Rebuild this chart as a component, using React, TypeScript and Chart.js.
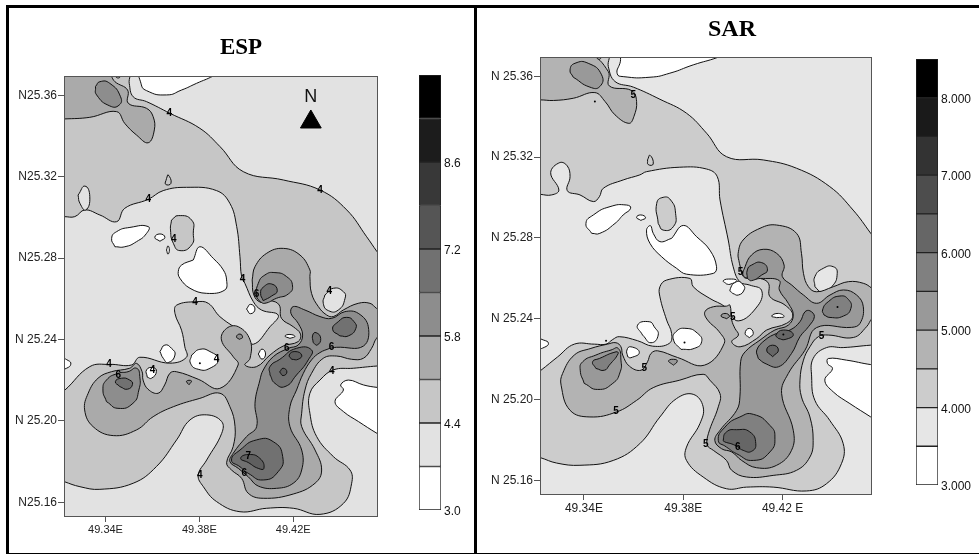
import React, { useEffect, useRef } from "react";
import { Chart, registerables } from "chart.js";

Chart.register(...registerables);

// ---------- ESP map: contour rings as lon,lat pairs ----------
const espBase = [49.30,25.39, 49.48,25.39, 49.48,25.14, 49.30,25.14];
const espC1 = [49.31,25.38, 49.3497,25.3716, 49.3501,25.3659, 49.3518,25.3593, 49.3575,25.3569, 49.3674,25.3512, 49.3802,25.3438, 49.3888,25.3348, 49.3987,25.3225, 49.4158,25.3184, 49.4314,25.3135, 49.4428,25.3037, 49.4513,25.2905, 49.4557,25.2832, 49.4584,25.2791, 49.47,25.27, 49.47,25.23, 49.4584,25.2270, 49.4557,25.2270, 49.4456,25.2259, 49.4371,25.2251, 49.4314,25.2201, 49.4271,25.2136, 49.4271,25.2038, 49.4300,25.1923, 49.4371,25.1825, 49.4442,25.1759, 49.4449,25.1694, 49.4414,25.1595, 49.4314,25.1541, 49.4200,25.1571, 49.4087,25.1571, 49.3973,25.1554, 49.3873,25.1604, 49.3817,25.1677, 49.3795,25.1734, 49.3831,25.1808, 49.3895,25.1939, 49.3895,25.1997, 49.3831,25.2030, 49.3760,25.2005, 49.3703,25.1907, 49.3617,25.1776, 49.3518,25.1694, 49.3376,25.1664, 49.3291,25.1677, 49.3224,25.1702, 49.3191,25.1718, 49.31,25.172, 49.31,25.215, 49.3191,25.2128, 49.3224,25.2149, 49.3333,25.2267, 49.3418,25.2278, 49.3511,25.2275, 49.3546,25.2313, 49.3674,25.2284, 49.3745,25.2313, 49.3738,25.2364, 49.3724,25.2446, 49.3696,25.2528, 49.3703,25.2569, 49.3788,25.2586, 49.3838,25.2578, 49.3888,25.2512, 49.3987,25.2430, 49.4030,25.2377, 49.4101,25.2463, 49.4136,25.2520, 49.4065,25.2545, 49.4030,25.2586, 49.3994,25.2676, 49.3980,25.2709, 49.3973,25.2807, 49.3959,25.2955, 49.3930,25.3069, 49.3873,25.3132, 49.3745,25.3148, 49.3646,25.3132, 49.3582,25.3089, 49.3482,25.3045, 49.3447,25.2979, 49.3376,25.3012, 49.3312,25.3037, 49.3269,25.3004, 49.3224,25.3004, 49.31,25.3004];
const espC1Hole = [49.3312,25.3154, 49.3333,25.3102, 49.3316,25.3037, 49.3291,25.3069, 49.3283,25.3110];
const espC1Hole2 = [49.4371,25.2652, 49.4414,25.2635, 49.4421,25.2603, 49.4392,25.2545, 49.4350,25.2542, 49.4328,25.2578, 49.4335,25.2619];
const espIslandA = [49.3710,25.3009, 49.3767,25.2987, 49.3774,25.2922, 49.3767,25.2865, 49.3717,25.2837, 49.3689,25.2873, 49.3677,25.2938, 49.3681,25.2987];
const espIslandB = [49.3667,25.3209, 49.3679,25.3168, 49.3656,25.3163, 49.3660,25.3192];
const espWhite1 = [49.3554,25.3716, 49.3551,25.3659, 49.3575,25.3623, 49.3660,25.3602, 49.3724,25.3626, 49.3788,25.3659, 49.3859,25.3695, 49.3888,25.3716];
const espWhite2 = [49.3426,25.2897, 49.3447,25.2930, 49.3504,25.2951, 49.3582,25.2955, 49.3575,25.2922, 49.3532,25.2881, 49.3482,25.2856, 49.3440,25.2856];
const espWhite3 = [49.3610,25.2902, 49.3632,25.2919, 49.3653,25.2902, 49.3632,25.2883];
const espWhite4 = [49.3666,25.2860, 49.3672,25.2840, 49.3666,25.2820, 49.3660,25.2840];
const espWhite5 = [49.3802,25.2856, 49.3859,25.2799, 49.3902,25.2742, 49.3916,25.2693, 49.3909,25.2644, 49.3831,25.2627, 49.3760,25.2652, 49.3717,25.2701, 49.3710,25.2734, 49.3724,25.2766, 49.3774,25.2791];
const espWhite6 = [49.4018,25.2573, 49.4037,25.2550, 49.4018,25.2527, 49.4001,25.2550];
const espWhite7 = [49.3653,25.2373, 49.3681,25.2357, 49.3696,25.2324, 49.3667,25.2287, 49.3646,25.2308, 49.3632,25.2341];
const espWhite8 = [49.3802,25.2352, 49.3845,25.2341, 49.3880,25.2303, 49.3845,25.2259, 49.3795,25.2254, 49.3762,25.2284, 49.3767,25.2324];
const espWhite9 = [49.3205,25.2308, 49.3241,25.2297, 49.3252,25.2279, 49.3234,25.2259, 49.3205,25.2251];
const espWhite10 = [49.3575,25.2251, 49.3603,25.2262, 49.3617,25.2243, 49.3596,25.2210, 49.3578,25.2215];
const espWhite11 = [49.4067,25.2353, 49.4082,25.2329, 49.4067,25.2304, 49.4051,25.2329];
const espWhite12 = [49.4165,25.2417, 49.4186,25.2425, 49.4207,25.2415, 49.4186,25.2406];
const espWhite13 = [49.4584,25.2165, 49.4557,25.2165, 49.4499,25.2177, 49.4435,25.2201, 49.4402,25.2177, 49.4414,25.2152, 49.4378,25.2095, 49.4414,25.2046, 49.4478,25.1997, 49.4557,25.1939, 49.4584,25.1923, 49.47,25.19, 49.47,25.215];
const espC2TopLeft = [49.31,25.38, 49.3407,25.3716, 49.3440,25.3667, 49.3494,25.3626, 49.3497,25.3561, 49.3575,25.3536, 49.3603,25.3495, 49.3608,25.3430, 49.3582,25.3367, 49.3532,25.3405, 49.3482,25.3462, 49.3447,25.3520, 49.3333,25.3492, 49.3224,25.3484, 49.31,25.348];
const espC2Notch = [49.3437,25.3708, 49.3454,25.3685, 49.3472,25.3708];
const espC2Main = [49.4037,25.2758, 49.4087,25.2824, 49.4158,25.2848, 49.4229,25.2815, 49.4271,25.2742, 49.4271,25.2709, 49.4278,25.2627, 49.4307,25.2562, 49.4342,25.2521, 49.4371,25.2513, 49.4413,25.2545, 49.4477,25.2578, 49.4527,25.2578, 49.4555,25.2553, 49.4598,25.2521, 49.47,25.25, 49.47,25.24, 49.4591,25.2439, 49.4555,25.2406, 49.4534,25.2357, 49.4499,25.2308, 49.4449,25.2303, 49.4385,25.2319, 49.4328,25.2308, 49.4278,25.2234, 49.4250,25.2152, 49.4236,25.2038, 49.4236,25.1972, 49.4293,25.1857, 49.4321,25.1759, 49.4293,25.1694, 49.4200,25.1641, 49.4072,25.1620, 49.4008,25.1645, 49.3980,25.1718, 49.3937,25.1759, 49.3916,25.1795, 49.3944,25.1874, 49.3952,25.1972, 49.3930,25.2070, 49.3888,25.2136, 49.3802,25.2111, 49.3689,25.2070, 49.3603,25.2021, 49.3532,25.1956, 49.3433,25.1928, 49.3347,25.1972, 49.3311,25.2054, 49.3326,25.2136, 49.3368,25.2210, 49.3425,25.2242, 49.3503,25.2259, 49.3532,25.2283, 49.3556,25.2242, 49.3560,25.2201, 49.3581,25.2156, 49.3624,25.2136, 49.3652,25.2177, 49.3674,25.2234, 49.3702,25.2242, 49.3795,25.2205, 49.3887,25.2160, 49.3965,25.2275, 49.3944,25.2316, 49.3894,25.2398, 49.3916,25.2455, 49.3966,25.2463, 49.4016,25.2398, 49.4016,25.2308, 49.3994,25.2275, 49.4044,25.2267, 49.4101,25.2324, 49.4157,25.2368, 49.4221,25.2390, 49.4231,25.2427, 49.4200,25.2463, 49.4150,25.2504, 49.4140,25.2570, 49.4101,25.2591, 49.4061,25.2583, 49.4032,25.2619, 49.4025,25.2693];
const espC3TopLeft = [49.3376,25.3667, 49.3418,25.3659, 49.3464,25.3593, 49.3458,25.3552, 49.3418,25.3548, 49.3362,25.3602, 49.3357,25.3643];
const espC3TinyA = [49.3745,25.2195, 49.3766,25.2197, 49.3756,25.2178];
const espC3TinyB = [49.3958,25.2414, 49.3973,25.2427, 49.3984,25.2411, 49.3970,25.2401];
const espC3Blob = [49.3389,25.2152, 49.3404,25.2201, 49.3453,25.2234, 49.3496,25.2242, 49.3532,25.2259, 49.3546,25.2218, 49.3542,25.2152, 49.3517,25.2087, 49.3453,25.2062, 49.3404,25.2095];
const espC3Main = [49.4385,25.2362, 49.4499,25.2368, 49.4520,25.2463, 49.4477,25.2529, 49.4420,25.2537, 49.4364,25.2504, 49.4314,25.2513, 49.4250,25.2545, 49.4200,25.2562, 49.4190,25.2529, 49.4221,25.2480, 49.4240,25.2422, 49.4221,25.2373, 49.4179,25.2357, 49.4115,25.2316, 49.4072,25.2250, 49.4058,25.2201, 49.4037,25.2087, 49.4044,25.1972, 49.4001,25.1923, 49.3944,25.1841, 49.3930,25.1800, 49.3966,25.1767, 49.4008,25.1726, 49.4051,25.1680, 49.4129,25.1669, 49.4200,25.1694, 49.4236,25.1759, 49.4236,25.1857, 49.4186,25.1972, 49.4186,25.2070, 49.4214,25.2152, 49.4243,25.2234, 49.4278,25.2300, 49.4314,25.2336, 49.4356,25.2357];
const espC3Halo = [49.4044,25.2614, 49.4051,25.2676, 49.4079,25.2717, 49.4122,25.2729, 49.4172,25.2709, 49.4197,25.2663, 49.4179,25.2624, 49.4129,25.2603, 49.4079,25.2578, 49.4058,25.2586];
const espC4Blob = [49.3442,25.2193, 49.3468,25.2210, 49.3503,25.2201, 49.3515,25.2180, 49.3493,25.2156, 49.3461,25.2169];
const espC4Halo = [49.4061,25.2627, 49.4072,25.2657, 49.4108,25.2673, 49.4132,25.2640, 49.4108,25.2614, 49.4072,25.2591];
const espC4Right = [49.4368,25.2450, 49.4392,25.2488, 49.4428,25.2509, 49.4459,25.2488, 49.4467,25.2455, 49.4435,25.2418, 49.4399,25.2418];
const espC4Mid = [49.4283,25.2422, 49.4297,25.2434, 49.4317,25.2406, 49.4302,25.2373, 49.4285,25.2385];
const espC4Lower = [49.4101,25.2267, 49.4143,25.2303, 49.4214,25.2357, 49.4278,25.2349, 49.4264,25.2300, 49.4214,25.2226, 49.4165,25.2169, 49.4122,25.2185, 49.4101,25.2226];
const espC4South = [49.3937,25.1808, 49.3973,25.1857, 49.4044,25.1907, 49.4115,25.1898, 49.4155,25.1825, 49.4136,25.1751, 49.4072,25.1710, 49.4008,25.1743, 49.3973,25.1775];
const espC5A = [49.4183,25.2324, 49.4207,25.2341, 49.4236,25.2324, 49.4221,25.2303, 49.4193,25.2303];
const espC5B = [49.4157,25.2259, 49.4173,25.2241, 49.4157,25.2223, 49.4142,25.2241];
const espC5South = [49.3976,25.1816, 49.4008,25.1835, 49.4058,25.1816, 49.4075,25.1767, 49.4051,25.1767, 49.4008,25.1796];

// level index into the shade list, then the ring; later rings paint over earlier ones
const espRings: [number, number[]][] = [
  [1, espBase], [2, espC1], [1, espC1Hole], [1, espC1Hole2], [2, espIslandA], [2, espIslandB],
  [0, espWhite1], [0, espWhite2], [0, espWhite3], [0, espWhite4], [0, espWhite5], [0, espWhite6], [0, espWhite7],
  [0, espWhite8], [0, espWhite9], [0, espWhite10], [0, espWhite13],
  [3, espC2TopLeft], [2, espC2Notch], [3, espC2Main], [0, espWhite11], [0, espWhite12],
  [4, espC3TopLeft], [4, espC3TinyA], [4, espC3TinyB], [4, espC3Blob], [4, espC3Main], [4, espC3Halo],
  [5, espC4Blob], [5, espC4Halo], [5, espC4Right], [5, espC4Mid], [5, espC4Lower], [5, espC4South],
  [6, espC5A], [6, espC5B], [6, espC5South],
];
const espShades = ["#ffffff", "#e2e2e2", "#c6c6c6", "#aaaaaa", "#8d8d8d", "#717171", "#5f5f5f"];
const espLabels: [string, number, number][] = [
  ["4", 49.3672, 25.3512], ["4", 49.4314, 25.3135], ["4", 49.3582, 25.3089], ["4", 49.3691, 25.2892],
  ["4", 49.3984, 25.2698], ["4", 49.4354, 25.2639], ["4", 49.3781, 25.2582], ["4", 49.3415, 25.2278],
  ["4", 49.3873, 25.2303], ["4", 49.3600, 25.2251], ["4", 49.4364, 25.2243], ["4", 49.3802, 25.1734],
  ["6", 49.3454, 25.2226], ["6", 49.4172, 25.2357], ["6", 49.4363, 25.2362], ["6", 49.4044, 25.2624],
  ["7", 49.4008, 25.1827], ["6", 49.3991, 25.1742],
];
const espDots = [49.3802, 25.2284];
const espNorth = [49.4275, 25.3469];
const espNorthLabel: [string, number, number] = ["N", 49.4275, 25.3592];

// ---------- SAR map ----------
const sarBase = [49.30,25.39, 49.48,25.39, 49.48,25.14, 49.30,25.14];
const sarC1 = [49.31,25.38, 49.3495,25.3714, 49.3498,25.3648, 49.3525,25.3574, 49.3599,25.3546, 49.3706,25.3486, 49.3813,25.3417, 49.3894,25.3318, 49.3974,25.3202, 49.4122,25.3186, 49.4256,25.3145, 49.4390,25.3054, 49.4484,25.2938, 49.4555,25.2823, 49.4578,25.2782, 49.47,25.27, 49.47,25.23, 49.4578,25.2270, 49.4555,25.2270, 49.4444,25.2258, 49.4377,25.2258, 49.4323,25.2204, 49.4317,25.2113, 49.4330,25.1997, 49.4390,25.1898, 49.4444,25.1783, 49.4437,25.1684, 49.4377,25.1585, 49.4296,25.1549, 49.4162,25.1568, 49.4055,25.1568, 49.3974,25.1560, 49.3880,25.1618, 49.3813,25.1700, 49.3813,25.1766, 49.3867,25.1882, 49.3880,25.1965, 49.3840,25.2027, 49.3773,25.2006, 49.3706,25.1915, 49.3625,25.1783, 49.3518,25.1700, 49.3384,25.1676, 49.3290,25.1687, 49.3224,25.1714, 49.32,25.172, 49.31,25.172, 49.31,25.212, 49.3200,25.2122, 49.3227,25.2146, 49.3294,25.2212, 49.3361,25.2275, 49.3442,25.2275, 49.3489,25.2275, 49.3516,25.2298, 49.3542,25.2312, 49.3616,25.2292, 49.3677,25.2265, 49.3744,25.2279, 49.3753,25.2328, 49.3733,25.2394, 49.3706,25.2509, 49.3706,25.2559, 49.3733,25.2592, 49.3827,25.2600, 49.3840,25.2559, 49.3907,25.2501, 49.3968,25.2460, 49.4021,25.2390, 49.4102,25.2468, 49.4115,25.2542, 49.4068,25.2567, 49.4028,25.2583, 49.4001,25.2658, 49.3981,25.2790, 49.3948,25.2988, 49.3937,25.3103, 49.3894,25.3141, 49.3786,25.3150, 49.3652,25.3128, 49.3625,25.3112, 49.3558,25.3087, 49.3478,25.3046, 49.3462,25.3004, 49.3438,25.2980, 49.3384,25.3013, 49.3333,25.3034, 49.3344,25.3103, 49.3333,25.3156, 49.3303,25.3173, 49.3266,25.3123, 49.3299,25.3037, 49.3270,25.3013, 49.3224,25.3016, 49.3203,25.3021, 49.31,25.302];
const sarC1Hole = [49.4330,25.2609, 49.4364,25.2650, 49.4404,25.2658, 49.4420,25.2625, 49.4398,25.2559, 49.4357,25.2534, 49.4330,25.2559];
const sarIslandA = [49.3693,25.2971, 49.3719,25.3001, 49.3749,25.2988, 49.3769,25.2922, 49.3760,25.2856, 49.3719,25.2839, 49.3699,25.2872];
const sarIslandB = [49.3666,25.3209, 49.3679,25.3166, 49.3659,25.3163, 49.3656,25.3186];
const sarWhite1 = [49.3561,25.3714, 49.3545,25.3664, 49.3534,25.3612, 49.3558,25.3598, 49.3666,25.3595, 49.3746,25.3615, 49.3840,25.3656, 49.3941,25.3694, 49.3974,25.3714];
const sarWhite2 = [49.3408,25.2872, 49.3438,25.2914, 49.3505,25.2955, 49.3572,25.2963, 49.3588,25.2947, 49.3558,25.2914, 49.3525,25.2872, 49.3464,25.2823, 49.3431,25.2823];
const sarWhite3 = [49.3612,25.2902, 49.3629,25.2914, 49.3648,25.2900, 49.3629,25.2887];
const sarWhite4 = [49.3800,25.2862, 49.3854,25.2806, 49.3907,25.2740, 49.3934,25.2658, 49.3921,25.2625, 49.3813,25.2621, 49.3773,25.2650, 49.3713,25.2707, 49.3666,25.2773, 49.3652,25.2839, 49.3668,25.2861, 49.3679,25.2823, 49.3706,25.2782, 49.3753,25.2798];
const sarWhite5 = [49.3988,25.2543, 49.4015,25.2584, 49.4042,25.2567, 49.4045,25.2543, 49.4022,25.2518, 49.3999,25.2526];
const sarWhite6 = [49.3961,25.2589, 49.3995,25.2597, 49.4015,25.2589, 49.3988,25.2571, 49.3975,25.2572];
const sarWhite7 = [49.3200,25.2303, 49.3238,25.2295, 49.3257,25.2279, 49.3240,25.2259, 49.3200,25.2246];
const sarWhite8 = [49.3616,25.2369, 49.3663,25.2386, 49.3683,25.2361, 49.3699,25.2320, 49.3670,25.2282, 49.3636,25.2320];
const sarWhite9 = [49.3761,25.2295, 49.3770,25.2336, 49.3811,25.2353, 49.3858,25.2328, 49.3874,25.2287, 49.3844,25.2254, 49.3791,25.2249];
const sarWhite10 = [49.3573,25.2246, 49.3589,25.2262, 49.3623,25.2234, 49.3589,25.2208, 49.3576,25.2213];
const sarWhite11 = [49.4049,25.2328, 49.4066,25.2353, 49.4082,25.2328, 49.4066,25.2307];
const sarWhite12 = [49.4156,25.2414, 49.4183,25.2427, 49.4206,25.2411, 49.4176,25.2406];
const sarWhite13 = [49.4585,25.2174, 49.4555,25.2174, 49.4457,25.2196, 49.4384,25.2204, 49.4381,25.2179, 49.4401,25.2154, 49.4370,25.2097, 49.4404,25.2039, 49.4471,25.1981, 49.4555,25.1915, 49.4585,25.1890, 49.47,25.188, 49.47,25.215];
const sarC2TopLeft = [49.31,25.38, 49.3417,25.3714, 49.3498,25.3623, 49.3502,25.3552, 49.3592,25.3529, 49.3612,25.3475, 49.3601,25.3400, 49.3581,25.3367, 49.3525,25.3409, 49.3485,25.3475, 49.3444,25.3519, 49.3357,25.3491, 49.3277,25.3480, 49.3224,25.3483, 49.31,25.348];
const sarC2Notch = [49.3444,25.3714, 49.3461,25.3684, 49.3478,25.3714];
const sarC2Main = [49.4021,25.2724, 49.4041,25.2790, 49.4109,25.2848, 49.4176,25.2864, 49.4256,25.2823, 49.4276,25.2724, 49.4284,25.2625, 49.4304,25.2559, 49.4337,25.2534, 49.4404,25.2559, 49.4465,25.2584, 49.4525,25.2576, 49.4560,25.2551, 49.4592,25.2518, 49.47,25.25, 49.47,25.24, 49.4592,25.2435, 49.4560,25.2402, 49.4538,25.2361, 49.4485,25.2308, 49.4384,25.2320, 49.4344,25.2312, 49.4310,25.2262, 49.4284,25.2196, 49.4270,25.2097, 49.4276,25.2014, 49.4310,25.1915, 49.4323,25.1799, 49.4310,25.1717, 49.4256,25.1651, 49.4162,25.1626, 49.4055,25.1618, 49.3995,25.1651, 49.3974,25.1700, 49.3921,25.1750, 49.3897,25.1775, 49.3901,25.1832, 49.3941,25.1965, 49.3948,25.2030, 49.3907,25.2097, 49.3880,25.2126, 49.3786,25.2097, 49.3679,25.2060, 49.3612,25.1997, 49.3532,25.1940, 49.3424,25.1915, 49.3344,25.1948, 49.3308,25.2072, 49.3314,25.2130, 49.3361,25.2221, 49.3428,25.2254, 49.3495,25.2275, 49.3529,25.2282, 49.3549,25.2262, 49.3556,25.2221, 49.3583,25.2166, 49.3630,25.2146, 49.3656,25.2188, 49.3670,25.2229, 49.3697,25.2242, 49.3777,25.2209, 49.3885,25.2171, 49.3965,25.2279, 49.3945,25.2336, 49.3898,25.2394, 49.3887,25.2435, 49.3921,25.2460, 49.3974,25.2463, 49.3988,25.2468, 49.3995,25.2394, 49.4008,25.2353, 49.4022,25.2320, 49.3995,25.2287, 49.4029,25.2262, 49.4096,25.2303, 49.4136,25.2345, 49.4216,25.2378, 49.4241,25.2419, 49.4210,25.2468, 49.4149,25.2510, 49.4143,25.2576, 49.4109,25.2600, 49.4069,25.2600, 49.4042,25.2609, 49.4026,25.2675];
const sarC3TopLeft = [49.3344,25.3631, 49.3364,25.3664, 49.3417,25.3664, 49.3471,25.3607, 49.3464,25.3549, 49.3424,25.3546, 49.3357,25.3595];
const sarC3TinyA = [49.3952,25.2414, 49.3968,25.2427, 49.3986,25.2414, 49.3975,25.2401];
const sarC3TinyB = [49.3741,25.2193, 49.3770,25.2199, 49.3775,25.2188, 49.3760,25.2171];
const sarC3Blob = [49.3385,25.2146, 49.3395,25.2188, 49.3448,25.2221, 49.3509,25.2246, 49.3538,25.2254, 49.3549,25.2196, 49.3546,25.2138, 49.3516,25.2081, 49.3455,25.2051, 49.3401,25.2081];
const sarC3Main = [49.4042,25.2612, 49.4049,25.2658, 49.4075,25.2716, 49.4122,25.2744, 49.4176,25.2724, 49.4206,25.2666, 49.4199,25.2609, 49.4237,25.2567, 49.4284,25.2518, 49.4337,25.2477, 49.4391,25.2518, 49.4445,25.2543, 49.4498,25.2518, 49.4525,25.2460, 49.4512,25.2378, 49.4478,25.2358, 49.4337,25.2357, 49.4290,25.2245, 49.4223,25.2130, 49.4196,25.2031, 49.4243,25.1849, 49.4236,25.1750, 49.4176,25.1676, 49.4095,25.1664, 49.4035,25.1700, 49.3995,25.1742, 49.3954,25.1758, 49.3927,25.1799, 49.3948,25.1849, 49.4015,25.1948, 49.4028,25.2014, 49.4031,25.2188, 49.4049,25.2237, 49.4109,25.2295, 49.4169,25.2345, 49.4223,25.2369, 49.4243,25.2419, 49.4223,25.2477, 49.4187,25.2543, 49.4187,25.2589, 49.4122,25.2600, 49.4082,25.2595];
const sarC4Blob = [49.3435,25.2188, 49.3462,25.2204, 49.3529,25.2237, 49.3538,25.2229, 49.3502,25.2171, 49.3482,25.2146, 49.3448,25.2155];
const sarC4Right = [49.4361,25.2444, 49.4384,25.2485, 49.4431,25.2513, 49.4465,25.2496, 49.4475,25.2452, 49.4445,25.2414, 49.4391,25.2407, 49.4367,25.2419];
const sarC4Halo = [49.4058,25.2642, 49.4075,25.2666, 49.4116,25.2678, 49.4139,25.2642, 49.4116,25.2617, 49.4075,25.2589, 49.4058,25.2600];
const sarC4Lower = [49.4096,25.2246, 49.4129,25.2295, 49.4176,25.2328, 49.4230,25.2345, 49.4270,25.2386, 49.4290,25.2435, 49.4310,25.2440, 49.4328,25.2411, 49.4304,25.2361, 49.4270,25.2312, 49.4236,25.2229, 49.4183,25.2163, 49.4129,25.2180, 49.4102,25.2204];
const sarC4South = [49.3941,25.1799, 49.3968,25.1865, 49.4028,25.1915, 49.4082,25.1928, 49.4149,25.1873, 49.4169,25.1816, 49.4149,25.1742, 49.4082,25.1700, 49.4015,25.1733, 49.3974,25.1766];
const sarC5A = [49.4136,25.2246, 49.4160,25.2270, 49.4183,25.2246, 49.4160,25.2213];
const sarC5B = [49.4173,25.2320, 49.4203,25.2345, 49.4243,25.2323, 49.4210,25.2298, 49.4183,25.2303];
const sarC5South = [49.3961,25.1799, 49.3974,25.1841, 49.4015,25.1852, 49.4068,25.1841, 49.4092,25.1783, 49.4075,25.1745, 49.4041,25.1750, 49.4008,25.1775, 49.3968,25.1791];

const sarRings: [number, number[]][] = [
  [1, sarBase], [2, sarC1], [1, sarC1Hole], [2, sarIslandA], [2, sarIslandB],
  [0, sarWhite1], [0, sarWhite2], [0, sarWhite3], [0, sarWhite4], [0, sarWhite5], [0, sarWhite6], [0, sarWhite7],
  [0, sarWhite8], [0, sarWhite9], [0, sarWhite10], [0, sarWhite11], [0, sarWhite13],
  [3, sarC2TopLeft], [2, sarC2Notch], [3, sarC2Main], [0, sarWhite12],
  [4, sarC3TopLeft], [4, sarC3TinyA], [4, sarC3TinyB], [4, sarC3Blob], [4, sarC3Main],
  [5, sarC4Blob], [5, sarC4Right], [5, sarC4Halo], [5, sarC4Lower], [5, sarC4South],
  [6, sarC5A], [6, sarC5B], [6, sarC5South],
];
const sarShades = ["#ffffff", "#e6e6e6", "#cccccc", "#b3b3b3", "#999999", "#808080", "#666666"];
const sarLabels: [string, number, number][] = [
  ["5", 49.3599, 25.3504], ["5", 49.4031, 25.2630], ["5", 49.3999, 25.2407], ["5", 49.3643, 25.2158],
  ["5", 49.3529, 25.1943], ["5", 49.3891, 25.1780], ["6", 49.4019, 25.1766], ["5", 49.4357, 25.2315],
];
const sarDots = [49.3444, 25.3475, 49.3489, 25.2292, 49.3805, 25.2283, 49.4421, 25.2459, 49.4203, 25.2323];

// ---------- axes ----------
const lonTicks = [49.34, 49.38, 49.42];
const latTicks = [25.36, 25.32, 25.28, 25.24, 25.2, 25.16];
const espLonLabels = ["49.34E", "49.38E", "49.42E"];
const espLatLabels = ["N25.36", "N25.32", "N25.28", "N 25.24", "N 25.20", "N25.16"];
const sarLonLabels = ["49.34E", "49.38E", "49.42 E"];
const sarLatLabels = ["N 25.36", "N 25.32", "N 25.28", "N 25.24", "N 25.20", "N 25.16"];

// ---------- colour bars ----------
const espBarBreaks = [3.0, 3.7, 4.4, 5.1, 5.8, 6.5, 7.2, 7.9, 8.6, 9.3, 10.0];
const espBarShades = ["#ffffff", "#e2e2e2", "#c6c6c6", "#aaaaaa", "#8d8d8d", "#717171", "#555555", "#383838", "#1c1c1c", "#000000"];
const espBarTicks = [3.0, 4.4, 5.8, 7.2, 8.6];
const sarBarBreaks = [3.0, 3.5, 4.0, 4.5, 5.0, 5.5, 6.0, 6.5, 7.0, 7.5, 8.0, 8.5];
const sarBarShades = ["#ffffff", "#e6e6e6", "#cccccc", "#b3b3b3", "#999999", "#808080", "#666666", "#4d4d4d", "#333333", "#1a1a1a", "#000000"];
const sarBarTicks = [3, 4, 5, 6, 7, 8];

const FONT = "'Liberation Sans', Arial, sans-serif";

function toPoints(flat: number[]) {
  const pts: { x: number; y: number }[] = [];
  for (let i = 0; i < flat.length; i += 2) pts.push({ x: flat[i], y: flat[i + 1] });
  return pts;
}

type MapProps = {
  left: number; width: number; yWidth: number; rightWidth: number; xHeight: number;
  title: string; titleSize: number; titleTop: number; titleBottom: number;
  rings: [number, number[]][]; shades: string[];
  labels: [string, number, number][]; dots: number[];
  xRange: [number, number]; yRange: [number, number];
  lonLabels: string[]; latLabels: string[]; xFont: number; yFont: number;
  north?: number[]; northLabel?: [string, number, number];
};

function MapChart(p: MapProps) {
  const ref = useRef<HTMLCanvasElement>(null);
  useEffect(() => {
    const datasets: any[] = p.rings.map(([level, flat]) => {
      const ring = toPoints(flat);
      // run once round with the neighbours on both ends so the curve closes smoothly;
      // the two extra end segments are filled but not stroked
      const pts = [ring[ring.length - 1], ...ring, ring[ring.length - 1], ring[0], ring[1]];
      const lastIndex = pts.length - 1;
      return {
        data: pts, showLine: true, pointRadius: 0, fill: "shape",
        tension: ring.length <= 10 ? 0.55 : 0.42,
        backgroundColor: p.shades[level], borderColor: "#111111", borderWidth: 1,
        segment: {
          borderColor: (c: any) => (c.p0DataIndex === 0 || c.p1DataIndex === lastIndex ? "rgba(0,0,0,0)" : undefined),
        },
      };
    });
    datasets.reverse();
    datasets.unshift({ data: toPoints(p.dots), pointRadius: 1, pointBackgroundColor: "#000", pointBorderWidth: 0, showLine: false });
    if (p.north) {
      datasets.unshift({ data: toPoints(p.north), pointStyle: "triangle", pointRadius: 12, pointBackgroundColor: "#000", pointBorderColor: "#000", showLine: false });
    }
    const textPlugin = {
      id: "contourText",
      afterDatasetsDraw(chart: any) {
        const { ctx, chartArea: a, scales } = chart;
        ctx.save();
        ctx.strokeStyle = "#555";
        ctx.lineWidth = 1;
        ctx.strokeRect(a.left + 0.5, a.top + 0.5, a.right - a.left, a.bottom - a.top);
        ctx.fillStyle = "#000";
        ctx.textAlign = "center";
        ctx.textBaseline = "middle";
        ctx.font = `bold 10px ${FONT}`;
        for (const [t, lon, lat] of p.labels) {
          ctx.fillText(t, scales.x.getPixelForValue(lon), scales.y.getPixelForValue(lat));
        }
        if (p.northLabel) {
          ctx.font = `18px ${FONT}`;
          ctx.fillStyle = "#111";
          ctx.fillText(p.northLabel[0], scales.x.getPixelForValue(p.northLabel[1]), scales.y.getPixelForValue(p.northLabel[2]));
        }
        ctx.restore();
      },
    };
    const chart = new Chart(ref.current!, {
      type: "scatter",
      data: { datasets },
      plugins: [textPlugin],
      options: {
        animation: false, responsive: false, events: [],
        layout: { padding: 0 },
        plugins: {
          legend: { display: false }, tooltip: { enabled: false },
          title: {
            display: true, text: p.title, color: "#000",
            font: { family: "'Liberation Serif', 'Times New Roman', serif", size: p.titleSize, weight: "bold", lineHeight: 1 },
            padding: { top: p.titleTop, bottom: p.titleBottom },
          },
        },
        scales: {
          x: {
            type: "linear", min: p.xRange[0], max: p.xRange[1],
            afterBuildTicks: (s: any) => { s.ticks = lonTicks.map((value) => ({ value })); },
            afterFit: (s: any) => { s.height = p.xHeight; },
            grid: { drawOnChartArea: false, tickLength: 6, color: "#555" },
            border: { display: false },
            ticks: {
              autoSkip: false, maxRotation: 0, padding: 1, color: "#222",
              font: { family: FONT, size: p.xFont },
              callback: (v: any) => p.lonLabels[lonTicks.indexOf(Number(v))] ?? "",
            },
          },
          y: {
            type: "linear", min: p.yRange[0], max: p.yRange[1],
            afterBuildTicks: (s: any) => { s.ticks = latTicks.map((value) => ({ value })); },
            afterFit: (s: any) => { s.width = p.yWidth; },
            grid: { drawOnChartArea: false, tickLength: 6, color: "#555" },
            border: { display: false },
            ticks: {
              autoSkip: false, padding: 1, color: "#222",
              font: { family: FONT, size: p.yFont },
              callback: (v: any) => p.latLabels[latTicks.indexOf(Number(v))] ?? "",
            },
          },
          y2: {
            type: "linear", position: "right", display: true, min: 0, max: 1,
            afterFit: (s: any) => { s.width = p.rightWidth; },
            grid: { display: false, drawTicks: false }, border: { display: false }, ticks: { display: false },
          },
        },
      } as any,
    });
    return () => chart.destroy();
  }, []);
  return <canvas ref={ref} width={p.width} height={554} style={{ position: "absolute", left: p.left, top: 0 }} />;
}

type BarProps = {
  left: number; top: number; width: number; height: number; padLeft: number; plotWidth: number;
  breaks: number[]; shades: string[]; ticks: number[]; decimals: number;
};

function ColorBar(p: BarProps) {
  const ref = useRef<HTMLCanvasElement>(null);
  useEffect(() => {
    const datasets = p.shades.map((c, i) => ({
      data: [[p.breaks[i], p.breaks[i + 1]]],
      backgroundColor: c, borderColor: "#222", borderWidth: 1, borderSkipped: false,
      barPercentage: 1, categoryPercentage: 1,
    }));
    const chart = new Chart(ref.current!, {
      type: "bar",
      data: { labels: [""], datasets },
      options: {
        animation: false, responsive: false, events: [],
        layout: { padding: { left: p.padLeft, top: 12, bottom: 12, right: 0 } },
        plugins: { legend: { display: false }, tooltip: { enabled: false }, title: { display: false } },
        scales: {
          x: { stacked: true, display: false },
          y: {
            position: "right",
            min: p.breaks[0], max: p.breaks[p.breaks.length - 1],
            afterBuildTicks: (s: any) => { s.ticks = p.ticks.map((value) => ({ value })); },
            afterFit: (s: any) => { s.width = p.width - p.padLeft - p.plotWidth; },
            grid: { display: false, drawTicks: false }, border: { display: false },
            ticks: {
              autoSkip: false, padding: 3, labelOffset: 2, color: "#111",
              font: { family: FONT, size: 12 },
              callback: (v: any) => Number(v).toFixed(p.decimals),
            },
          },
        },
      } as any,
    });
    return () => chart.destroy();
  }, []);
  return <canvas ref={ref} width={p.width} height={p.height} style={{ position: "absolute", left: p.left, top: p.top }} />;
}

const bar = (left: number, top: number, width: number, height: number) => (
  <div style={{ position: "absolute", left, top, width, height, background: "#000" }} />
);

export default function App() {
  return (
    <div style={{ position: "absolute", left: 0, top: 0, width: 979, height: 554, overflow: "hidden", background: "#fff" }}>
      <MapChart
        left={0} width={482} yWidth={64} rightWidth={105} xHeight={38}
        title="ESP" titleSize={23} titleTop={36.5} titleBottom={16.5}
        rings={espRings} shades={espShades} labels={espLabels} dots={espDots}
        xRange={[49.3223, 49.4557]} yRange={[25.1533, 25.3695]}
        lonLabels={espLonLabels} latLabels={espLatLabels} xFont={11} yFont={12}
        north={espNorth} northLabel={espNorthLabel}
      />
      <MapChart
        left={485} width={494} yWidth={55} rightWidth={108} xHeight={60}
        title="SAR" titleSize={24} titleTop={18} titleBottom={15}
        rings={sarRings} shades={sarShades} labels={sarLabels} dots={sarDots}
        xRange={[49.3223, 49.4556]} yRange={[25.1534, 25.3695]}
        lonLabels={sarLonLabels} latLabels={sarLatLabels} xFont={12} yFont={12}
      />
      <ColorBar left={410} top={63} width={62} height={459} padLeft={9} plotWidth={22}
        breaks={espBarBreaks} shades={espBarShades} ticks={espBarTicks} decimals={1} />
      <ColorBar left={906} top={47} width={73} height={450} padLeft={10} plotWidth={22}
        breaks={sarBarBreaks} shades={sarBarShades} ticks={sarBarTicks} decimals={3} />
      {bar(6, 5, 973, 3)}
      {bar(6, 5, 2.5, 549)}
      {bar(474, 5, 3, 549)}
      {bar(6, 553, 973, 1)}
    </div>
  );
}
